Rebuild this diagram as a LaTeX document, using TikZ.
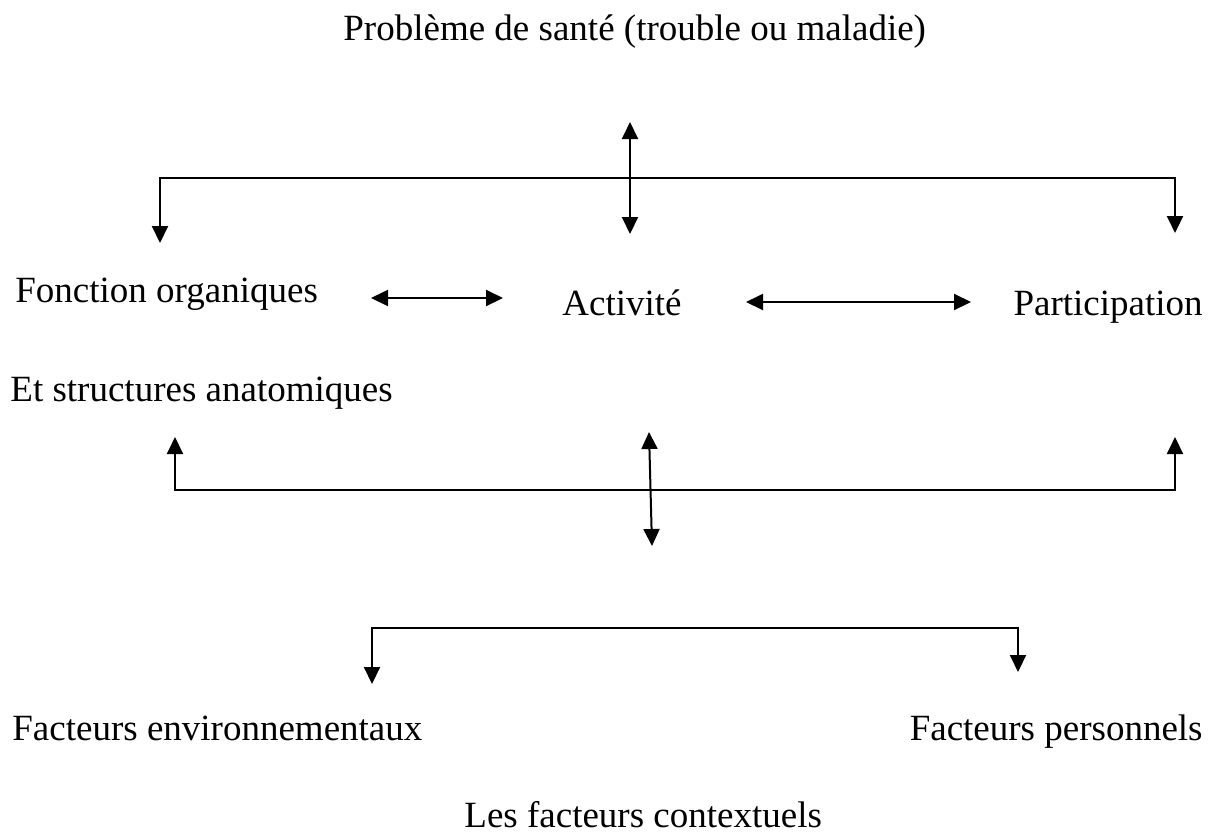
\documentclass[tikz,border=0pt]{standalone}
\usepackage{fontspec}
\setmainfont{Liberation Serif}
\usetikzlibrary{arrows.meta, calc, positioning}

\tikzset{
  lbl/.style={inner sep=0pt, font=\fontsize{18.5}{22}\selectfont},
  link/.style={line width=1pt}
}

\begin{document}
\begin{tikzpicture}[x=0.5pt, y=-0.5pt, >={Triangle[length=8.5pt, width=8pt]}]
  \useasboundingbox (0,0) rectangle (1214,836);

  % texts
  \node[lbl, anchor=base west] (sante) at (343,40) {Problème de santé (trouble ou maladie)};
  \node[lbl, anchor=base west] (fonction) at (15,302) {Fonction organiques};
  \node[lbl, anchor=base] (activite) at (622,315) {Activité};
  \node[lbl, anchor=base east] (participation) at (1203,315) {Participation};
  \node[lbl, anchor=base west] (structures) at (10,401) {Et structures anatomiques};
  \node[lbl, anchor=base west] (environnement) at (12,740) {Facteurs environnementaux};
  \node[lbl, anchor=base east] (personnels) at (1203,740) {Facteurs personnels};
  \node[lbl, anchor=base west] (contexte) at (464,827) {Les facteurs contextuels};

  % upper bracket
  \coordinate (haut-g) at (160,178);
  \coordinate (haut-d) at (1175,178);
  \coordinate (haut-g-fin) at (160,243);
  \coordinate (haut-d-fin) at (1175,233);
  \coordinate (haut-c1) at (630,122);
  \coordinate (haut-c2) at (630,234);
  \draw[link, ->] (haut-d) -- (haut-g) -- (haut-g-fin);
  \draw[link, ->] (haut-g) -- (haut-d) -- (haut-d-fin);
  \draw[link, <->] (haut-c1) -- (haut-c2);

  % middle row
  \coordinate (mil-a) at (371,298);
  \coordinate (mil-b) at (503,298);
  \coordinate (mil-c) at (746,302);
  \coordinate (mil-d) at (971,302);
  \draw[link, <->] (mil-a) -- (mil-b);
  \draw[link, <->] (mil-c) -- (mil-d);

  % lower bracket
  \coordinate (bas-g) at (175,490);
  \coordinate (bas-d) at (1175,490);
  \coordinate (bas-g-fin) at (175,437);
  \coordinate (bas-d-fin) at (1175,437);
  \coordinate (bas-c1) at (649,432);
  \coordinate (bas-c2) at (652,546);
  \draw[link, ->] (bas-d) -- (bas-g) -- (bas-g-fin);
  \draw[link, ->] (bas-g) -- (bas-d) -- (bas-d-fin);
  \draw[link, <->] (bas-c1) -- (bas-c2);

  % contextual factors
  \coordinate (ctx-g) at (372,628);
  \coordinate (ctx-d) at (1018,628);
  \coordinate (ctx-g-fin) at (372,684);
  \coordinate (ctx-d-fin) at (1018,672);
  \draw[link, ->] (ctx-d) -- (ctx-g) -- (ctx-g-fin);
  \draw[link, ->] (ctx-g) -- (ctx-d) -- (ctx-d-fin);
\end{tikzpicture}
\end{document}
